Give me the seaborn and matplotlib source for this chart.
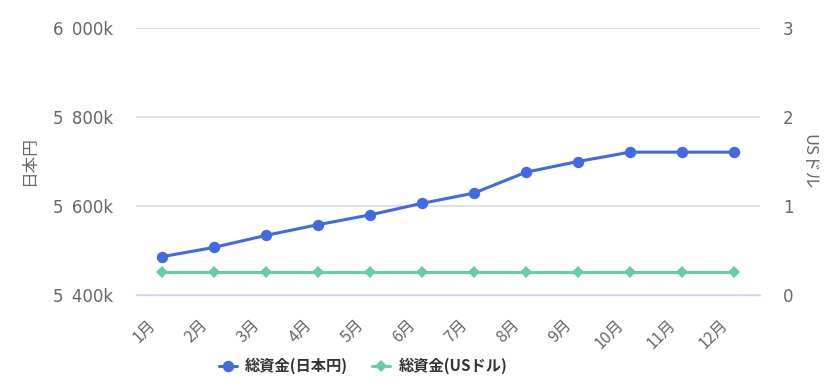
import matplotlib
matplotlib.use("Agg")
import matplotlib.pyplot as plt
import matplotlib.ticker as mticker
import matplotlib.transforms as mtransforms
import seaborn as sns
import pandas as pd
import numpy as np

months = ["1月", "2月", "3月", "4月", "5月", "6月", "7月", "8月", "9月", "10月", "11月", "12月"]
total_jpy = [5486000, 5507000, 5534000, 5558000, 5580000, 5606000, 5629000, 5676000, 5700000, 5721000, 5721000, 5721000]
total_usd = [0.26, 0.26, 0.26, 0.26, 0.26, 0.26, 0.26, 0.26, 0.26, 0.26, 0.26, 0.26]
jpy_ticks = [5400000, 5600000, 5800000, 6000000]
usd_ticks = [0, 1, 2, 3]

sns.set_theme(style="white")
plt.rcParams["font.family"] = ["Noto Sans CJK JP", "DejaVu Sans"]
NUMFONT = ["DejaVu Sans"]

BLUE = "#4169E1"
GREEN = "#66CDAA"
LABEL = "#666666"
GRID = "#dcdcdc"
AXIS = "#ccd6eb"

df = pd.DataFrame({"pos": np.arange(len(months)), "jpy": total_jpy, "usd": total_usd})

fig = plt.figure(figsize=(8.4, 3.88), dpi=100)
ax = fig.add_axes([136 / 840, 1 - 295 / 388, 624 / 840, 267 / 388])
ax2 = ax.twinx()

sns.lineplot(data=df, x="pos", y="jpy", ax=ax, color=BLUE, marker="o", markersize=8.2,
             markeredgewidth=0, linewidth=2.2, label="総資金(日本円)", legend=False)
sns.lineplot(data=df, x="pos", y="usd", ax=ax2, color=GREEN, marker="D", markersize=6.5,
             markeredgewidth=0, linewidth=2.2, label="総資金(USドル)", legend=False)

ax.set_xlim(-0.5, len(months) - 0.5)
ax.set_ylim(jpy_ticks[0], jpy_ticks[-1])
ax2.set_ylim(usd_ticks[0], usd_ticks[-1])
ax.set_yticks(jpy_ticks)
ax2.set_yticks(usd_ticks)

def fmt(v, p):
    k = int(round(v / 1000))
    return f"{k:,}".replace(",", "\u2002") + "k"
ax.yaxis.set_major_formatter(mticker.FuncFormatter(fmt))

ax.set_xticks(np.arange(len(months)))
ax.set_xticklabels(months, rotation=45, ha="right", va="center", rotation_mode="anchor")
ax.set_xticks(np.arange(-0.5, len(months) + 0.5, 1), minor=True)
ax.tick_params(axis="x", which="major", length=0, pad=20, labelsize=11.5, colors=LABEL)
ax.tick_params(axis="x", which="minor", length=9, width=1, color=AXIS, direction="out")
ax.tick_params(axis="y", length=0, pad=16.5, labelsize=12, colors=LABEL)
ax2.tick_params(axis="y", length=0, pad=16.5, labelsize=12, colors=LABEL)
for lbl in ax.get_yticklabels() + ax2.get_yticklabels():
    lbl.set_fontfamily(NUMFONT)
shift = mtransforms.ScaledTranslation(-9 / 100, 0, fig.dpi_scale_trans)
for lbl in ax.get_xticklabels():
    lbl.set_color(LABEL)
    lbl.set_transform(lbl.get_transform() + shift)

ax.set_xlabel("")
ax.set_ylabel("日本円", color=LABEL, fontsize=12, labelpad=11)
ax2.set_ylabel("USドル", color=LABEL, fontsize=12, rotation=270, labelpad=17)
ax2.set_xlabel("")

ax.grid(axis="y", color=GRID, linewidth=1.2)
ax.grid(axis="x", visible=False)
ax.set_axisbelow(True)
for a in (ax, ax2):
    for s in ("top", "left", "right"):
        a.spines[s].set_visible(False)
    a.spines["bottom"].set_color(AXIS)
    a.spines["bottom"].set_linewidth(1)
ax2.spines["bottom"].set_visible(False)

handles = ax.get_lines()[:1] + ax2.get_lines()[:1]
labels = ["総資金(日本円)", "総資金(USドル)"]
fig.legend(handles, labels, loc="center", bbox_to_anchor=(363 / 840, 1 - 366 / 388),
           ncol=2, frameon=False, prop={"weight": "bold", "size": 11},
           handlelength=1.2, columnspacing=1.55, handletextpad=0.55, labelcolor="#333333")

fig.savefig("out.png", dpi=100)
